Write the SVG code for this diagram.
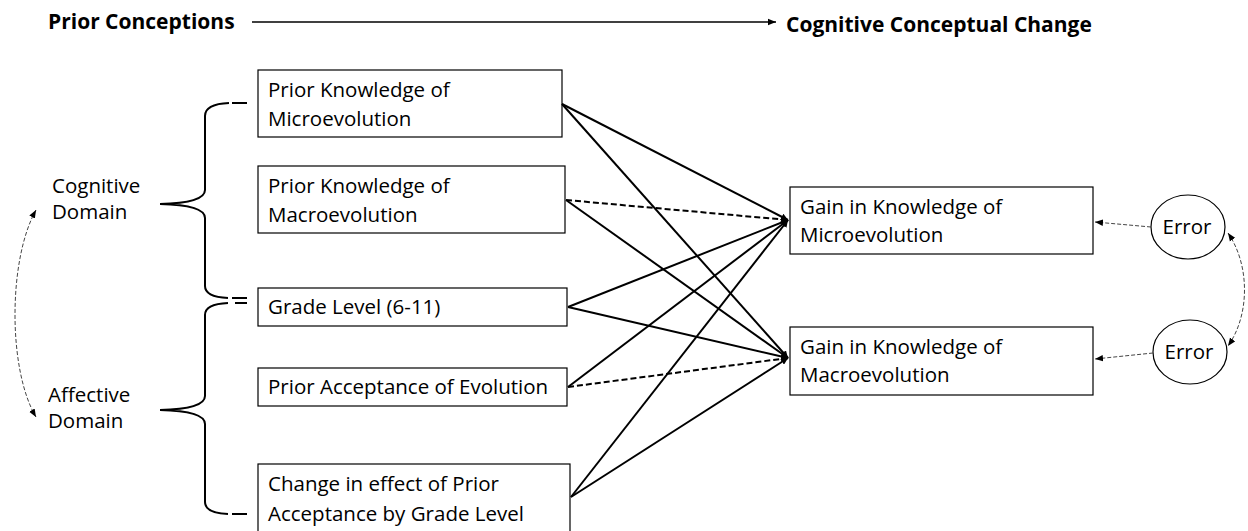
<svg xmlns="http://www.w3.org/2000/svg" width="1248" height="531" viewBox="0 0 1248 531">
<defs>
<style>
.t{font-family:"Open Sans","Liberation Sans",sans-serif;font-size:20.5px;fill:#000}
.h{font-family:"Open Sans","Liberation Sans",sans-serif;font-size:21px;font-weight:bold;fill:#000}
.box{fill:#fff;stroke:#000;stroke-width:1.2}
.c{stroke:#000;stroke-width:2;fill:none}
.d{stroke:#000;stroke-width:2;fill:none;stroke-dasharray:6,3}
.thin{stroke:#444;stroke-width:1;fill:none;stroke-dasharray:4,2}
.br{stroke:#000;stroke-width:2;fill:none}
</style>
<marker id="ah" viewBox="0 0 10 10" refX="10" refY="5" markerWidth="7" markerHeight="7" orient="auto-start-reverse" markerUnits="userSpaceOnUse">
<path d="M0,0 L10,5 L0,10 z" fill="#000"/>
</marker>
<marker id="as" viewBox="0 0 10 10" refX="10" refY="5" markerWidth="8" markerHeight="8" orient="auto-start-reverse" markerUnits="userSpaceOnUse">
<path d="M0,1 L10,5 L0,9 z" fill="#000"/>
</marker>
</defs>
<rect width="1248" height="531" fill="#fff"/>
<g id="header">
<text class="h" x="48" y="29">Prior Conceptions</text>
<text class="h" x="786" y="32">Cognitive Conceptual Change</text>
<line x1="252" y1="22" x2="776" y2="22" stroke="#000" stroke-width="1.6" marker-end="url(#as)"/>
</g>
<g id="cognitive-domain">
<text class="t" x="52" y="193">Cognitive</text>
<text class="t" x="52" y="219">Domain</text>
</g>
<g id="affective-domain">
<text class="t" x="48" y="402">Affective</text>
<text class="t" x="48" y="428">Domain</text>
</g>
<g id="braces">
<path class="br" d="M229,103 Q205,104 205,116 L205,190 Q205,203 160,204 Q205,205 205,218 L205,286 Q205,297 228,298"/>
<path class="br" d="M232,103 L247,103 M232,298 L247,298 M235,303 L247,303"/>
<path class="br" d="M228,303 Q205,304 205,315 L205,396 Q205,409 160,410 Q205,411 205,424 L205,502 Q205,513 228,514"/>
<path class="br" d="M232,514 L247,514"/>
</g>
<g id="n1"><rect class="box" x="258" y="70" width="304" height="67"/>
<text class="t" x="268" y="97">Prior Knowledge of</text><text class="t" x="268" y="126">Microevolution</text></g>
<g id="n2"><rect class="box" x="258" y="166" width="307" height="67"/>
<text class="t" x="268" y="193">Prior Knowledge of</text><text class="t" x="268" y="222">Macroevolution</text></g>
<g id="n3"><rect class="box" x="258" y="288" width="309" height="38"/>
<text class="t" x="268" y="314">Grade Level (6-11)</text></g>
<g id="n4"><rect class="box" x="258" y="368" width="309" height="38"/>
<text class="t" x="268" y="394">Prior Acceptance of Evolution</text></g>
<g id="n5"><rect class="box" x="258" y="464" width="312" height="70"/>
<text class="t" x="268" y="491">Change in effect of Prior</text><text class="t" x="268" y="521">Acceptance by Grade Level</text></g>
<g id="g1"><rect class="box" x="790" y="187" width="303" height="67"/>
<text class="t" x="800" y="214">Gain in Knowledge of</text><text class="t" x="800" y="242">Microevolution</text></g>
<g id="g2"><rect class="box" x="790" y="327" width="303" height="68"/>
<text class="t" x="800" y="354">Gain in Knowledge of</text><text class="t" x="800" y="382">Macroevolution</text></g>
<g id="e1"><ellipse cx="1188" cy="227" rx="37" ry="32" fill="#fff" stroke="#000" stroke-width="1.2"/>
<text class="t" x="1187" y="234" text-anchor="middle">Error</text></g>
<g id="e2"><ellipse cx="1190" cy="352" rx="37" ry="32" fill="#fff" stroke="#000" stroke-width="1.2"/>
<text class="t" x="1189" y="359" text-anchor="middle">Error</text></g>
<g id="connectors">
<line class="c" x1="562" y1="104" x2="788" y2="220" marker-end="url(#ah)"/>
<line class="c" x1="562" y1="104" x2="788" y2="358" marker-end="url(#ah)"/>
<line class="d" x1="566" y1="200" x2="788" y2="220" marker-end="url(#ah)"/>
<line class="c" x1="566" y1="200" x2="788" y2="358" marker-end="url(#ah)"/>
<line class="c" x1="568" y1="307" x2="788" y2="220" marker-end="url(#ah)"/>
<line class="c" x1="568" y1="307" x2="788" y2="358" marker-end="url(#ah)"/>
<line class="c" x1="568" y1="387" x2="788" y2="220" marker-end="url(#ah)"/>
<line class="d" x1="568" y1="387" x2="788" y2="358" marker-end="url(#ah)"/>
<line class="c" x1="571" y1="497" x2="788" y2="220" marker-end="url(#ah)"/>
<line class="c" x1="571" y1="497" x2="788" y2="358" marker-end="url(#ah)"/>
<line class="thin" x1="1151" y1="227" x2="1095" y2="222" marker-end="url(#as)"/>
<line class="thin" x1="1153" y1="353" x2="1095" y2="359" marker-end="url(#as)"/>
<path class="thin" d="M1228,233 C1250,265 1250,315 1228,346" marker-start="url(#as)" marker-end="url(#as)"/>
<path class="thin" d="M36,210 C8,260 8,370 36,417" marker-start="url(#as)" marker-end="url(#as)"/>
</g>
</svg>
